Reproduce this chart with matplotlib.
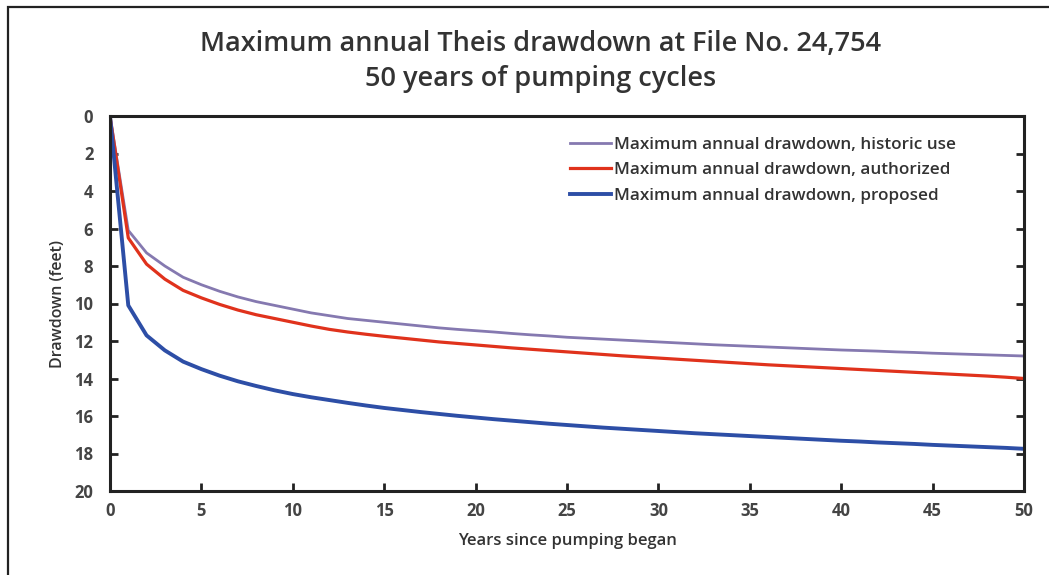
import matplotlib.pyplot as plt
from matplotlib.patches import Rectangle

years = list(range(0, 51))
historic = [0, 6.1, 7.3, 8.0, 8.6, 9.0, 9.35, 9.65, 9.9, 10.1, 10.3,
            10.5, 10.65, 10.8, 10.9, 11.0, 11.1, 11.2, 11.3, 11.38, 11.45,
            11.52, 11.6, 11.67, 11.73, 11.8, 11.85, 11.9, 11.95, 12.0, 12.05,
            12.1, 12.15, 12.2, 12.24, 12.28, 12.32, 12.36, 12.4, 12.44, 12.48,
            12.51, 12.54, 12.58, 12.61, 12.65, 12.68, 12.71, 12.74, 12.77, 12.8]
authorized = [0, 6.5, 7.9, 8.7, 9.3, 9.7, 10.05, 10.35, 10.6, 10.8, 11.0,
              11.2, 11.38, 11.52, 11.64, 11.75, 11.85, 11.95, 12.05, 12.13, 12.21,
              12.29, 12.37, 12.44, 12.51, 12.58, 12.65, 12.72, 12.79, 12.85, 12.91,
              12.97, 13.03, 13.09, 13.15, 13.21, 13.27, 13.32, 13.37, 13.42, 13.47,
              13.52, 13.57, 13.62, 13.67, 13.72, 13.77, 13.82, 13.87, 13.93, 14.0]
proposed = [0, 10.1, 11.7, 12.5, 13.1, 13.5, 13.85, 14.15, 14.4, 14.63, 14.83,
            15.0, 15.15, 15.3, 15.44, 15.57, 15.68, 15.79, 15.89, 15.99, 16.08,
            16.17, 16.25, 16.33, 16.41, 16.48, 16.55, 16.62, 16.68, 16.74, 16.8,
            16.86, 16.92, 16.97, 17.02, 17.07, 17.12, 17.17, 17.22, 17.27, 17.32,
            17.36, 17.41, 17.45, 17.49, 17.54, 17.58, 17.62, 17.66, 17.7, 17.75]
labels = ["Maximum annual drawdown, historic use",
          "Maximum annual drawdown, authorized",
          "Maximum annual drawdown, proposed"]
title = "Maximum annual Theis drawdown at File No. 24,754\n50 years of pumping cycles"

plt.rcParams['font.family'] = ['Open Sans', 'DejaVu Sans']

fig = plt.figure(figsize=(10.49, 5.75), dpi=100)
# outer frame of the original chart box
fig.patches.append(Rectangle((8/1049, -0.1), 1.2, 1.1 - 7/575, transform=fig.transFigure,
                             fill=False, edgecolor='#222222', linewidth=1.6))

ax = fig.add_axes([110/1049, 1 - 491/575, (1024 - 110)/1049, (491 - 116)/575])
ax.plot(years, historic, color='#8579b0', linewidth=2.0, label=labels[0])
ax.plot(years, authorized, color='#e0321c', linewidth=2.3, label=labels[1])
ax.plot(years, proposed, color='#2d4ea6', linewidth=2.8, label=labels[2])

ax.set_xlim(0, 50)
ax.set_ylim(20, 0)
ax.set_xticks(range(0, 51, 5))
ax.set_yticks(range(0, 21, 2))
ax.tick_params(direction='in', length=6, width=2, color='#222222',
               labelsize=12, labelcolor='#444444', right=True, pad=8)
ax.tick_params(axis='y', pad=12)
for lab in ax.get_xticklabels() + ax.get_yticklabels():
    lab.set_fontweight('bold')
for sp in ax.spines.values():
    sp.set_linewidth(2.2)
    sp.set_color('#222222')

ax.set_xlabel("Years since pumping began", fontsize=12, color='#333333', fontweight='semibold', labelpad=9)
ax.set_ylabel("Drawdown (feet)", fontsize=11.5, color='#333333', fontweight='semibold', labelpad=6)

fig.text(0.515, 0.893, title, ha='center', va='center', fontsize=19.5,
         color='#333333', fontweight='semibold', linespacing=1.3)

leg = ax.legend(loc='upper left', bbox_to_anchor=(0.487, 0.985), frameon=False,
                fontsize=12.3, handlelength=2.4, handletextpad=0.15,
                labelspacing=0.55)
for t in leg.get_texts():
    t.set_color('#333333')
    t.set_fontweight('semibold')

fig.savefig("out.png", dpi=100)
